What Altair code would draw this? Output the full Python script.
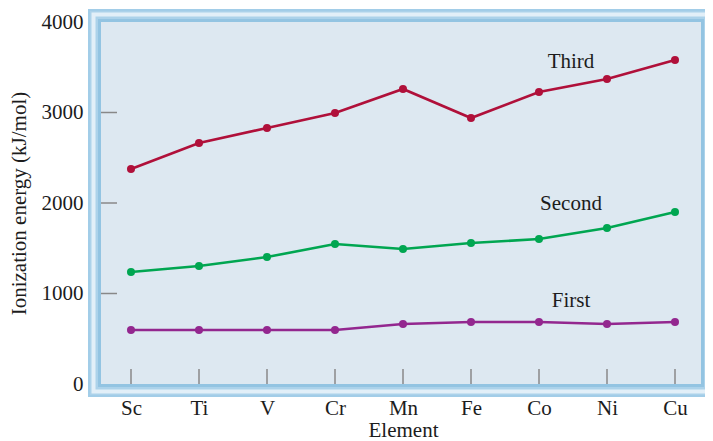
import altair as alt
import pandas as pd

elements = ["Sc", "Ti", "V", "Cr", "Mn", "Fe", "Co", "Ni", "Cu"]
first = [597, 597, 597, 597, 663, 685, 685, 663, 685]
second = [1238, 1304, 1403, 1547, 1492, 1558, 1602, 1724, 1901]
third = [2376, 2663, 2829, 2994, 3260, 2939, 3227, 3370, 3580]
series_names = ["First", "Second", "Third"]
series_colors = ["#93278f", "#00a651", "#b0103a"]
label_values = [917, 1989, 3558]
y_ticks = [1000, 2000, 3000]

W, H = 600, 362
FONT = "Liberation Serif"
FS = 21
TXT = "#1c1c1c"

rows = []
for name, vals in zip(series_names, [first, second, third]):
    for e, v in zip(elements, vals):
        rows.append({"element": e, "value": v, "series": name})
df = pd.DataFrame(rows)
labels_df = pd.DataFrame({"element": ["Co"] * 3, "value": label_values, "series": series_names})
yt_df = pd.DataFrame({"value": y_ticks})
xt_df = pd.DataFrame({"element": elements})
one = pd.DataFrame({"a": [0]})

xaxis = alt.Axis(title="Element", labelFont=FONT, labelFontSize=FS, labelColor=TXT,
                 titleFont=FONT, titleFontSize=FS, titleFontWeight="normal", titleColor=TXT,
                 ticks=False, tickSize=0, domain=False, grid=False, labelPadding=13, titlePadding=1,
                 labelAngle=0)
yaxis = alt.Axis(title="Ionization energy (kJ/mol)", labelFont=FONT, labelFontSize=FS, labelColor=TXT,
                 titleFont=FONT, titleFontSize=FS, titleFontWeight="normal", titleColor=TXT,
                 ticks=False, tickSize=0, domain=False, grid=False, labelPadding=18, format="d",
                 values=[0, 1000, 2000, 3000, 4000], titleX=-72, titleY=H / 2)
xscale = alt.Scale(type="point", range=[30, 574], padding=0, domain=elements)
yscale = alt.Scale(domain=[0, 4000], nice=False)
xenc = alt.X("element:N", sort=elements, scale=xscale, axis=xaxis)
yenc = alt.Y("value:Q", scale=yscale, axis=yaxis)
cscale = alt.Scale(domain=series_names, range=series_colors)


def band(off, width, color):
    return alt.Chart(one).mark_rect(fill=None, stroke=color, strokeWidth=width).encode(
        x=alt.value(-off), x2=alt.value(W + off), y=alt.value(-off), y2=alt.value(H + off))


frame = [
    band(6.5, 13, "#acd2ea"),
    band(7.5, 4, "#e2eff8"),
    band(1.5, 3, "#93c4e2"),
    band(12, 2, "#a2cde8"),
]

yticks = alt.Chart(yt_df).mark_rule(color="#888", strokeWidth=1.5).encode(
    y=yenc, x=alt.value(0), x2=alt.value(16))
xticks = alt.Chart(xt_df).mark_rule(color="#888", strokeWidth=1.5).encode(
    x=xenc, y=alt.value(H), y2=alt.value(H - 15))

lines = alt.Chart(df).mark_line(strokeWidth=2.6).encode(
    x=xenc, y=yenc, color=alt.Color("series:N", scale=cscale, legend=None), detail="series:N")
points = alt.Chart(df).mark_circle(size=65, opacity=1).encode(
    x=xenc, y=yenc, color=alt.Color("series:N", scale=cscale, legend=None))
texts = alt.Chart(labels_df).mark_text(font=FONT, fontSize=FS, color=TXT, dx=32,
                                       align="center", baseline="middle").encode(
    x=xenc, y=yenc, text="series:N")

chart = alt.layer(*frame, yticks, xticks, lines, points, texts).properties(
    width=W, height=H,
    autosize=alt.AutoSizeParams(type="none"),
    padding={"left": 93, "top": 14, "right": 4, "bottom": 56},
).configure_view(fill="#dde8f1", stroke=None)

chart.save("out.html", embed_options={"renderer": "svg", "actions": False})
